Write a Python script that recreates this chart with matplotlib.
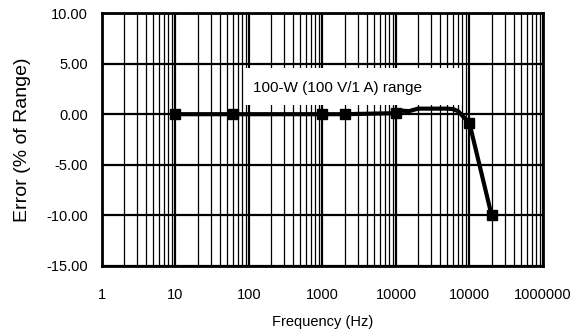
import matplotlib
matplotlib.use('Agg')
import matplotlib.pyplot as plt
from matplotlib.patches import Rectangle
from matplotlib.ticker import FixedLocator, LogLocator, NullFormatter

plt.rcParams['font.family'] = ['Liberation Sans', 'DejaVu Sans']

# measured error vs frequency, 100-W range
freq = [10, 60, 1000, 2000, 10000, 12000, 15000, 20000, 30000, 50000, 60000, 70000, 100000, 200000]
err = [0.0, 0.0, 0.0, 0.0, 0.1, 0.35, 0.3, 0.55, 0.55, 0.55, 0.5, 0.3, -0.9, -10.0]
marked = [0, 1, 2, 3, 4, 12, 13]

xticks = [1, 10, 100, 1000, 10000, 100000, 1000000]
xticklabels = ['1', '10', '100', '1000', '10000', '10000', '1000000']
yticks = [-15, -10, -5, 0, 5, 10]
yticklabels = ['%.2f' % v for v in yticks]

fig = plt.figure(figsize=(5.75, 3.31), dpi=100)
ax = fig.add_subplot(111)
fig.subplots_adjust(left=0.1774, right=0.9443, top=0.9607, bottom=0.1964)

ax.set_xscale('log')
ax.set_xlim(1, 1000000)
ax.set_ylim(-15, 10)

ax.xaxis.set_major_locator(FixedLocator(xticks))
ax.set_xticklabels(xticklabels)
ax.xaxis.set_minor_locator(LogLocator(base=10, subs=range(2, 10)))
ax.xaxis.set_minor_formatter(NullFormatter())
ax.set_yticks(yticks)
ax.set_yticklabels(yticklabels)

ax.set_axisbelow(True)
ax.grid(True, which='major', axis='both', color='black', lw=1.6)
ax.grid(True, which='minor', axis='x', color='black', lw=0.9)
ax.tick_params(which='both', length=0)
ax.tick_params(axis='y', labelsize=10.5, pad=10)
ax.tick_params(axis='x', labelsize=10.5, pad=16)
for s in ax.spines.values():
    s.set_linewidth(2)

ax.add_patch(Rectangle((88, 0.91), 79000 - 88, 4.57 - 0.91, facecolor='white',
                       edgecolor='none', zorder=1))
ax.text(113, 2.6, '100-W (100 V/1 A) range', fontsize=11, va='center', ha='left', zorder=2)

ax.plot(freq, err, color='black', lw=3, marker='s', markersize=6.5,
        markevery=marked, zorder=3, solid_joinstyle='round')

ax.set_xlabel('Frequency (Hz)', fontsize=10.5, labelpad=9)
ax.set_ylabel('Error (% of Range)', fontsize=14, labelpad=11)

fig.savefig('out.png', dpi=100)
plt.close()
